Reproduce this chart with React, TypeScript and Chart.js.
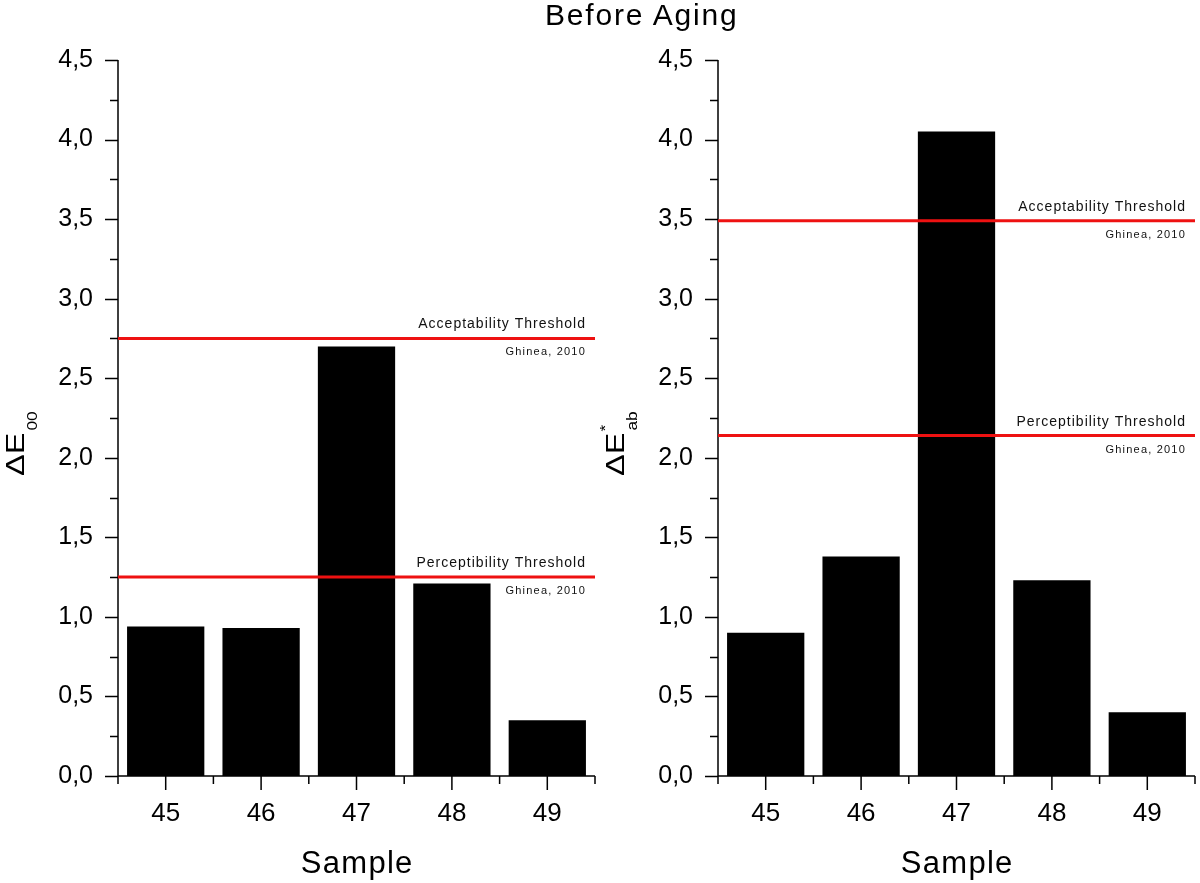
import React, { useEffect, useRef } from "react";
import { Chart, registerables } from "chart.js";

Chart.register(...registerables);

const samples = ["45", "46", "47", "48", "49"];
const deltaE00 = [0.94, 0.93, 2.7, 1.21, 0.35];
const deltaEab = [0.9, 1.38, 4.05, 1.23, 0.4];
const thresholds00 = [2.75, 1.25];
const thresholdsAb = [3.49, 2.14];
const thresholdNames = ["Acceptability Threshold", "Perceptibility Threshold"];
const thresholdSource = "Ghinea, 2010";
const yMin = 0;
const yMax = 4.5;
const yStep = 0.5;

const FONT = "'Liberation Sans', Arial, Helvetica, sans-serif";

type TitleSpec = { sub: string; sup?: string };

function makeOverlay(thresholds: number[], title: TitleSpec) {
  return {
    id: "overlay",
    afterDraw(chart: any) {
      const ctx: CanvasRenderingContext2D = chart.ctx;
      const { left, right, top, bottom } = chart.chartArea;
      const ys = chart.scales.y;
      const xs = chart.scales.x;
      ctx.save();
      ctx.strokeStyle = "#000";
      ctx.lineWidth = 1.5;
      // axes lines
      ctx.beginPath();
      ctx.moveTo(left, top);
      ctx.lineTo(left, bottom);
      ctx.moveTo(left, bottom);
      ctx.lineTo(right, bottom);
      ctx.stroke();
      // y ticks
      ctx.beginPath();
      for (let v = yMin; v <= yMax + 1e-9; v += yStep / 2) {
        const major = Math.abs(v / yStep - Math.round(v / yStep)) < 1e-6;
        const len = major ? 13 : 8;
        const py = Math.round(ys.getPixelForValue(v)) + 0.5;
        ctx.moveTo(left - len, py);
        ctx.lineTo(left, py);
      }
      ctx.stroke();
      // x ticks
      ctx.beginPath();
      const n = samples.length;
      for (let i = 0; i < n; i++) {
        const px = xs.getPixelForValue(i);
        ctx.moveTo(px, bottom);
        ctx.lineTo(px, bottom + 14);
      }
      for (let i = 0; i <= n; i++) {
        const px = xs.getPixelForValue(i - 0.5);
        ctx.moveTo(px, bottom);
        ctx.lineTo(px, bottom + 8);
      }
      ctx.stroke();

      // threshold lines
      thresholds.forEach((t, i) => {
        const py = ys.getPixelForValue(t);
        ctx.strokeStyle = "#ee1111";
        ctx.lineWidth = 3;
        ctx.beginPath();
        ctx.moveTo(left, py);
        ctx.lineTo(right, py);
        ctx.stroke();
        ctx.fillStyle = "#111";
        ctx.textAlign = "right";
        ctx.textBaseline = "alphabetic";
        (ctx as any).letterSpacing = "1px";
        ctx.font = `14px ${FONT}`;
        ctx.fillText(thresholdNames[i], right - 9, py - 10);
        (ctx as any).letterSpacing = "1.2px";
        ctx.font = `11px ${FONT}`;
        ctx.fillText(thresholdSource, right - 9, py + 17);
        (ctx as any).letterSpacing = "0px";
      });

      // x title
      ctx.fillStyle = "#000";
      ctx.textAlign = "center";
      ctx.textBaseline = "alphabetic";
      ctx.font = `31px ${FONT}`;
      (ctx as any).letterSpacing = "1.3px";
      ctx.fillText("Sample", (left + right) / 2 + 0.7, 873);
      (ctx as any).letterSpacing = "0px";

      // y title
      ctx.save();
      ctx.translate(24, 476);
      ctx.rotate(-Math.PI / 2);
      ctx.textAlign = "left";
      const main = "\u0394E";
      ctx.font = `25px ${FONT}`;
      const mainScale = 1.3;
      const w = ctx.measureText(main).width * mainScale;
      ctx.save();
      ctx.scale(mainScale, 1);
      ctx.fillText(main, 0, 0);
      ctx.restore();
      ctx.font = `15px ${FONT}`;
      const subScale = 1.15;
      if (title.sup) {
        ctx.save();
        ctx.translate(w + 1, -14);
        ctx.scale(subScale, 1);
        ctx.fillText(title.sup, 0, 0);
        ctx.restore();
      }
      ctx.save();
      ctx.translate(w + 2, 13);
      ctx.scale(subScale, 1);
      ctx.fillText(title.sub, 0, 0);
      ctx.restore();
      ctx.restore();

      ctx.restore();
    },
  };
}

function Panel({ values, thresholds, title, leftPos }: { values: number[]; thresholds: number[]; title: TitleSpec; leftPos: number }) {
  const ref = useRef<HTMLCanvasElement | null>(null);
  useEffect(() => {
    if (!ref.current) return;
    const chart = new Chart(ref.current, {
      type: "bar",
      data: {
        labels: samples,
        datasets: [
          {
            data: values,
            backgroundColor: "#000",
            borderWidth: 0,
            barPercentage: 0.81,
            categoryPercentage: 1,
          },
        ],
      },
      options: {
        responsive: false,
        animation: false,
        devicePixelRatio: 1,
        layout: { padding: { top: 60, right: 5, left: 0, bottom: 0 } },
        plugins: { legend: { display: false }, tooltip: { enabled: false }, title: { display: false } },
        scales: {
          x: {
            grid: { display: false },
            border: { display: false },
            ticks: { color: "#000", font: { family: FONT, size: 26 }, padding: 14, maxRotation: 0 },
            afterFit: (s: any) => {
              s.height = 107;
            },
          },
          y: {
            min: yMin,
            max: yMax,
            grid: { display: false },
            border: { display: false },
            ticks: {
              stepSize: yStep,
              color: "#000",
              font: { family: FONT, size: 25 },
              padding: 17,
              callback: (v: any) => Number(v).toFixed(1).replace(".", ","),
            },
            afterFit: (s: any) => {
              s.width = 118;
            },
          },
        },
      },
      plugins: [makeOverlay(thresholds, title)],
    } as any);
    return () => chart.destroy();
  }, []);
  return (
    <canvas
      ref={ref}
      width={600}
      height={883}
      style={{ position: "absolute", left: leftPos, top: 0, width: 600, height: 883 }}
    />
  );
}

export default function App() {
  return (
    <div style={{ position: "fixed", left: 0, top: 0, width: 1200, height: 883, background: "#fff", overflow: "hidden" }}>
      <Panel values={deltaE00} thresholds={thresholds00} title={{ sub: "00" }} leftPos={0} />
      <Panel values={deltaEab} thresholds={thresholdsAb} title={{ sub: "ab", sup: "*" }} leftPos={600} />
      <div
        style={{
          position: "absolute",
          left: 545,
          top: -1,
          fontFamily: FONT,
          fontSize: 30,
          letterSpacing: "1.8px",
          lineHeight: "32px",
          color: "#000",
          whiteSpace: "nowrap",
        }}
      >
        Before Aging
      </div>
    </div>
  );
}
